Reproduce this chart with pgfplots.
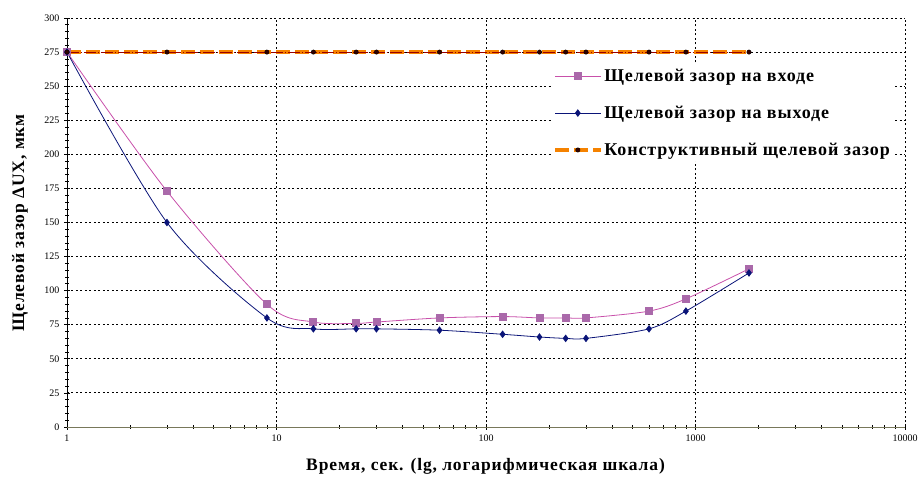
\documentclass[border=0pt]{standalone}
\usepackage{fontspec}
\setmainfont{Liberation Serif}
\newfontfamily\widefont[LetterSpace=5]{Liberation Serif}
\usepackage{pgfplots}
\pgfplotsset{compat=1.18}

\definecolor{inpline}{RGB}{200,80,170}
\definecolor{inpmark}{RGB}{170,105,170}
\definecolor{outline}{RGB}{10,20,120}
\definecolor{conline}{RGB}{245,130,0}
\definecolor{axbot}{RGB}{120,120,90}

\begin{document}
\begin{tikzpicture}
\path[use as bounding box] (-67pt,-51pt) rectangle (851pt,427pt);
\begin{axis}[
  scale only axis, width=838pt, height=409pt,
  xmode=log, xmin=1, xmax=10000, ymin=0, ymax=300,
  xtick={1,10,100,1000,10000}, xticklabels={1,10,100,1000,10000},
  ytick={0,25,...,300}, minor y tick num=4,
  axis lines=left, axis line style={-, line width=0.8pt},
  x axis line style={draw=axbot}, y axis line style={draw=black},
  tick align=center, major tick length=6pt, minor tick length=4pt,
  tick style={black, line width=0.7pt},
  grid=major, grid style={black, line width=0.9pt, dash pattern=on 2pt off 2.5pt},
  ticklabel style={font=\fontsize{10}{12}\selectfont},
  /pgf/number format/assume math mode=true,
  yticklabel style={xshift=-1pt},
  xticklabel style={yshift=-1pt},
  xlabel={\textbf{Время, сек. (lg, логарифмическая шкала)}},
  ylabel={\textbf{Щелевой зазор ΔUX, мкм}},
  label style={font=\fontsize{17.5}{20}\widefont},
  xlabel style={at={(0.5,0)}, anchor=center, yshift=-39pt},
  ylabel style={at={(0,0.5)}, anchor=center, yshift=47pt},
  legend style={at={(0.987,0.885)}, anchor=north east, fill=white, draw=none,
    font=\fontsize{18}{20}\widefont\bfseries, row sep=19pt,
    inner sep=2pt},
  legend cell align=left,
  legend image code/.code={
    \draw[#1] (0cm,0cm) -- (1.6cm,0cm);
    \draw[#1, only marks] plot coordinates {(0.8cm,0cm)};
  },
]
\addplot[color=inpline, line width=0.8pt, smooth, tension=0.5, mark=square*,
  mark size=3.5pt, mark options={fill=inpmark, draw=inpmark, solid}]
  coordinates { (1,275) (3,173) (9,90) (15,77) (24,76) (30,77) (60,80)
  (120,81) (180,80) (240,80) (300,80) (600,85) (900,94) (1800,116) };
\addlegendentry{Щелевой зазор на входе}
\addplot[color=outline, line width=0.8pt, smooth, tension=0.5, mark=diamond*,
  mark size=3.2pt, mark options={fill=outline, draw=outline, solid}]
  coordinates { (1,275) (3,150) (9,80) (15,72) (24,72) (30,72) (60,71)
  (120,68) (180,66) (240,65) (300,65) (600,72) (900,85) (1800,113) };
\addlegendentry{Щелевой зазор на выходе}
\addplot[color=conline, line width=3.5pt, dash pattern=on 14pt off 5pt, mark=*,
  mark size=2.2pt, mark options={fill=black!80!red, draw=black, solid, line width=0.4pt}]
  coordinates { (1,275) (3,275) (9,275) (15,275) (24,275) (30,275) (60,275)
  (120,275) (180,275) (240,275) (300,275) (600,275) (900,275) (1800,275) };
\addlegendentry{Конструктивный щелевой зазор}
\addplot[forget plot, red!60!black, line width=0.5pt, dash pattern=on 12pt off 2pt on 1pt off 2pt]
  coordinates { (1,275) (3,275) (9,275) (15,275) (24,275) (30,275) (60,275)
  (120,275) (180,275) (240,275) (300,275) (600,275) (900,275) (1800,275) };
\end{axis}
\end{tikzpicture}
\end{document}
